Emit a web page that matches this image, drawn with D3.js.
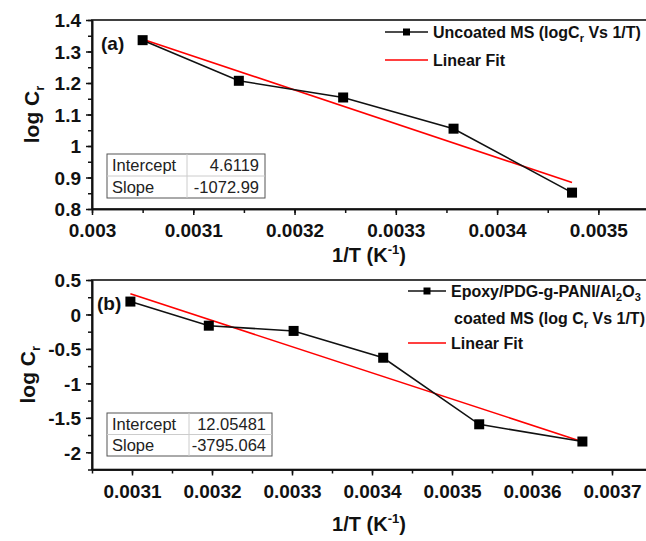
<!DOCTYPE html>
<html>
<head>
<meta charset="utf-8">
<script src="https://cdn.jsdelivr.net/npm/d3@7"></script>
<style>
  body { margin: 0; background: #fff; }
  svg { display: block; font-family: "Liberation Sans", Arial, sans-serif; }
</style>
</head>
<body>
<svg id="plot" width="646" height="541"></svg>
<script>
// Panel (a): uncoated MS
const xA = [0.00305, 0.003145, 0.003248, 0.003357, 0.003474];
const yA = [1.336, 1.207, 1.154, 1.055, 0.852];
const fitXA = [0.00305, 0.003474];
const fitYA = [1.339, 0.884];
const xTicksA = [0.003, 0.0031, 0.0032, 0.0033, 0.0034, 0.0035];
const yTicksA = [0.8, 0.9, 1.0, 1.1, 1.2, 1.3, 1.4];
const statsA = [["Intercept", "4.6119"], ["Slope", "-1072.99"]];

// Panel (b): Epoxy/PDG-g-PANI/Al2O3 coated MS
const xB = [0.003098, 0.003196, 0.003302, 0.003414, 0.003534, 0.003663];
const yB = [0.187, -0.163, -0.239, -0.628, -1.594, -1.844];
const fitXB = [0.003098, 0.003663];
const fitYB = [0.300, -1.846];
const xTicksB = [0.0031, 0.0032, 0.0033, 0.0034, 0.0035, 0.0036, 0.0037];
const yTicksB = [-2, -1.5, -1, -0.5, 0, 0.5];
const statsB = [["Intercept", "12.05481"], ["Slope", "-3795.064"]];

const svg = d3.select('#plot');
const fmt = d => String(+d.toFixed(5));

const panel = (cfg) => {
    const xScale = d3.scaleLinear().domain(cfg.xDomain).range([cfg.left, cfg.right]);
    const yScale = d3.scaleLinear().domain(cfg.yDomain).range([cfg.bottom, cfg.top]);
    const g = svg.append('g');

    // frame
    g.append('rect')
        .attr('x', cfg.left).attr('y', cfg.top)
        .attr('width', cfg.right - cfg.left).attr('height', cfg.bottom - cfg.top)
        .attr('fill', 'none').attr('stroke', '#111').attr('stroke-width', 1.6);

    // minor ticks
    const xMinor = d3.range(cfg.xDomain[0], cfg.xDomain[1] + 1e-9, cfg.xMinorStep);
    const yMinor = d3.range(cfg.yDomain[0], cfg.yDomain[1] + 1e-9, cfg.yMinorStep);

    const xAxisMinor = d3.axisBottom(xScale).tickValues(xMinor).tickFormat('').tickSize(4).tickSizeOuter(0);
    const yAxisMinor = d3.axisLeft(yScale).tickValues(yMinor).tickFormat('').tickSize(4).tickSizeOuter(0);
    const xAxis = d3.axisBottom(xScale).tickValues(cfg.xTicks).tickFormat(fmt).tickSize(6).tickSizeOuter(0).tickPadding(9);
    const yAxis = d3.axisLeft(yScale).tickValues(cfg.yTicks).tickFormat(fmt).tickSize(6).tickSizeOuter(0).tickPadding(5);

    [xAxisMinor, xAxis].forEach(ax => {
        const a = g.append('g').attr('transform', `translate(0, ${cfg.bottom})`).call(ax);
        a.select('.domain').attr('stroke', '#111').attr('stroke-width', 1.6);
        a.selectAll('line').attr('stroke', '#111').attr('stroke-width', 1.5);
        a.selectAll('text').attr('font-size', 19).attr('font-weight', 'bold').attr('fill', '#111');
    });
    [yAxisMinor, yAxis].forEach(ax => {
        const a = g.append('g').attr('transform', `translate(${cfg.left}, 0)`).call(ax);
        a.select('.domain').attr('stroke', '#111').attr('stroke-width', 1.6);
        a.selectAll('line').attr('stroke', '#111').attr('stroke-width', 1.5);
        a.selectAll('text').attr('font-size', 19).attr('font-weight', 'bold').attr('fill', '#111')
            .attr('dy', '0.36em');
    });

    // axis titles
    const yt = g.append('text')
        .attr('transform', `translate(${cfg.yTitleX}, ${(cfg.top + cfg.bottom) / 2}) rotate(-90)`)
        .attr('text-anchor', 'middle').attr('font-size', 21).attr('font-weight', 'bold').attr('fill', '#111');
    yt.append('tspan').text('log C');
    yt.append('tspan').attr('font-size', 13).attr('dy', 5).text('r');

    const xt = g.append('text')
        .attr('x', (cfg.left + 646) / 2).attr('y', cfg.xTitleY)
        .attr('text-anchor', 'middle').attr('font-size', 20).attr('font-weight', 'bold').attr('fill', '#111');
    xt.append('tspan').text('1/T (K');
    xt.append('tspan').attr('font-size', 13).attr('dy', -8).text('-1');
    xt.append('tspan').attr('dy', 8).text(')');

    // fit line
    const line = d3.line().x(d => xScale(d[0])).y(d => yScale(d[1]));
    g.append('path')
        .attr('d', line(d3.zip(cfg.fitX, cfg.fitY)))
        .attr('fill', 'none').attr('stroke', '#ff0000').attr('stroke-width', 1.6);

    // data line + markers
    const pts = d3.zip(cfg.xs, cfg.ys);
    g.append('path')
        .attr('d', line(pts))
        .attr('fill', 'none').attr('stroke', '#111').attr('stroke-width', 1.6);
    g.selectAll('rect.pt').data(pts).enter().append('rect')
        .attr('class', 'pt')
        .attr('x', d => xScale(d[0]) - 5).attr('y', d => yScale(d[1]) - 5)
        .attr('width', 10).attr('height', 10).attr('fill', '#000');

    // panel label
    g.append('text')
        .attr('x', cfg.labelX).attr('y', cfg.labelY)
        .attr('font-size', 19).attr('font-weight', 'bold').attr('fill', '#111')
        .text(cfg.label);

    // stats table
    const t = cfg.table;
    const rowH = (t.y1 - t.y0) / 2;
    const tg = g.append('g');
    tg.append('rect').attr('x', t.x0).attr('y', t.y0)
        .attr('width', t.x1 - t.x0).attr('height', t.y1 - t.y0)
        .attr('fill', '#fff').attr('stroke', '#555').attr('stroke-width', 1);
    tg.append('line').attr('x1', t.x0).attr('x2', t.x1).attr('y1', t.y0 + rowH).attr('y2', t.y0 + rowH)
        .attr('stroke', '#ccc').attr('stroke-width', 1);
    tg.append('line').attr('x1', t.xc).attr('x2', t.xc).attr('y1', t.y0).attr('y2', t.y1)
        .attr('stroke', '#ccc').attr('stroke-width', 1);
    cfg.stats.forEach((r, i) => {
        const ty = t.y0 + rowH * i + rowH / 2 + 6;
        tg.append('text').attr('x', t.x0 + 5).attr('y', ty)
            .attr('font-size', 16.5).attr('fill', '#222').text(r[0]);
        tg.append('text').attr('x', t.x1 - 6).attr('y', ty).attr('text-anchor', 'end')
            .attr('font-size', 16.5).attr('fill', '#222').text(r[1]);
    });

    // legend
    const lg = g.append('g').attr('font-size', 16).attr('font-weight', 'bold').attr('fill', '#111');
    const L = cfg.legend;
    lg.append('line').attr('x1', L.x0).attr('x2', L.x1).attr('y1', L.y1).attr('y2', L.y1)
        .attr('stroke', '#111').attr('stroke-width', 1.6);
    lg.append('rect').attr('x', (L.x0 + L.x1) / 2 - 3.5).attr('y', L.y1 - 3.5)
        .attr('width', 7).attr('height', 7).attr('fill', '#000');
    lg.append('line').attr('x1', L.x0).attr('x2', L.x1).attr('y1', L.y2).attr('y2', L.y2)
        .attr('stroke', '#ff0000').attr('stroke-width', 1.6);
    L.lines.forEach(l => {
        const tx = lg.append('text').attr('x', l.x).attr('y', l.y + 6);
        l.parts.forEach(p => {
            const ts = tx.append('tspan').text(p.t);
            if (p.sub) ts.attr('font-size', 11).attr('dy', 4);
            if (p.back) ts.attr('dy', -4);
        });
    });
};

panel({
    left: 92, right: 649, top: 20, bottom: 209,
    xDomain: [0.003, 0.00355], yDomain: [0.8, 1.4],
    xMinorStep: 0.00005, yMinorStep: 0.05,
    xTicks: xTicksA, yTicks: yTicksA,
    yTitleX: 39, xTitleY: 262,
    xs: xA, ys: yA, fitX: fitXA, fitY: fitYA,
    label: '(a)', labelX: 101, labelY: 50,
    stats: statsA,
    table: {x0: 107, x1: 265, xc: 187, y0: 154, y1: 198},
    legend: {
        x0: 385, x1: 428, y1: 32, y2: 60,
        lines: [
            {x: 433, y: 32, parts: [{t: 'Uncoated MS (logC'}, {t: 'r', sub: true}, {t: ' Vs 1/T)', back: true}]},
            {x: 433, y: 60, parts: [{t: 'Linear Fit'}]}
        ]
    }
});

panel({
    left: 92, right: 652, top: 280, bottom: 469.5,
    xDomain: [0.00305, 0.00375], yDomain: [-2.25, 0.5],
    xMinorStep: 0.00005, yMinorStep: 0.25,
    xTicks: xTicksB, yTicks: yTicksB,
    yTitleX: 35, xTitleY: 531,
    xs: xB, ys: yB, fitX: fitXB, fitY: fitYB,
    label: '(b)', labelX: 97, labelY: 310,
    stats: statsB,
    table: {x0: 107, x1: 272, xc: 189, y0: 413, y1: 456},
    legend: {
        x0: 408, x1: 446, y1: 291, y2: 343,
        lines: [
            {x: 451, y: 291, parts: [{t: 'Epoxy/PDG-g-PANI/Al'}, {t: '2', sub: true}, {t: 'O', back: true}, {t: '3', sub: true}]},
            {x: 454, y: 318, parts: [{t: 'coated MS (log C'}, {t: 'r', sub: true}, {t: ' Vs 1/T)', back: true}]},
            {x: 451, y: 343, parts: [{t: 'Linear Fit'}]}
        ]
    }
});
</script>
</body>
</html>
